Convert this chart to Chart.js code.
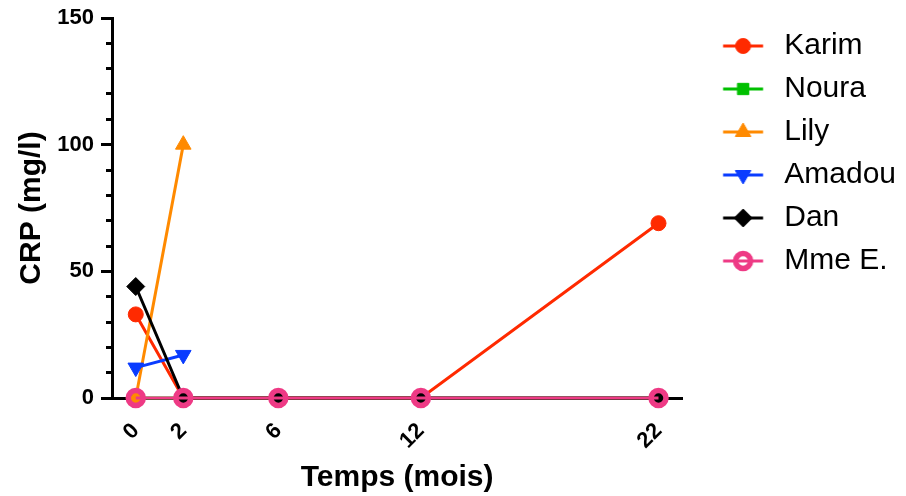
<!DOCTYPE html>
<html lang="fr">
<head>
  <meta charset="UTF-8" />
  <title>CRP par patient</title>
  <script src="https://cdn.jsdelivr.net/npm/chart.js"></script>
  <style>
    html, body {
      margin: 0;
      padding: 0;
      background: #fff;
    }
    #chart-container {
      width: 906px;
      height: 496px;
    }
  </style>
</head>
<body>

  <div id="chart-container">
    <canvas id="crpChart"></canvas>
  </div>

  <script>
    // data
    const months   = [0, 2, 6, 12, 22];
    const patients = ['Karim', 'Noura', 'Lily', 'Amadou', 'Dan', 'Mme E.'];
    const karim    = [33, 0, 0, 0, 69];
    const noura    = [0, 0, 0, 0, 0];
    const lily     = [0, 100, null, null, null];
    const amadou   = [12, 17, null, null, null];
    const dan      = [44, 0, 0, 0, 0];
    const mmeE     = [0, 0, 0, 0, 0];
    const yLabels  = [0, 50, 100, 150];

    const series = [karim, noura, lily, amadou, dan, mmeE];

    const FONT = "'Liberation Sans', Arial, sans-serif";

    // marker look for each patient
    const looks = [
      { color: '#ff2a00', style: 'circle',   radius: 7.5, rotation: 0,   fill: true },
      { color: '#00c000', style: 'rect',     radius: 8,   rotation: 0,   fill: true },
      { color: '#ff8a00', style: 'triangle', radius: 9,   rotation: 0,   fill: true },
      { color: '#0a3cff', style: 'triangle', radius: 9,   rotation: 180, fill: true },
      { color: '#000000', style: 'rectRot',  radius: 9,   rotation: 0,   fill: true },
      { color: '#ee3a85', style: 'circle',   radius: 7.5, rotation: 0,   fill: false }
    ];

    // small line + marker picture used as legend symbol
    function legendIcon(look) {
      const c = document.createElement('canvas');
      c.width = 70;
      c.height = 26;
      const g = c.getContext('2d');
      const mx = 45.8, my = 13;
      g.strokeStyle = look.color;
      g.lineWidth = 3;
      g.beginPath();
      g.moveTo(mx - 20, my);
      g.lineTo(mx + 20, my);
      g.stroke();
      g.fillStyle = look.fill ? look.color : 'rgba(0,0,0,0)';
      g.strokeStyle = look.color;
      g.lineWidth = look.fill ? 1 : 5.5;
      Chart.helpers.drawPoint(g, {
        pointStyle: look.style,
        radius: look.radius,
        rotation: look.rotation,
        borderWidth: g.lineWidth
      }, mx, my);
      return c;
    }

    const icons = looks.map(legendIcon);

    const datasets = patients.map((name, i) => ({
      label: name,
      data: months.map((m, j) => ({ x: m, y: series[i][j] })),
      borderColor: looks[i].color,
      backgroundColor: looks[i].color,
      borderWidth: 3,
      pointStyle: looks[i].style,
      pointRadius: looks[i].radius,
      pointRotation: looks[i].rotation,
      pointBackgroundColor: looks[i].fill ? looks[i].color : 'rgba(0,0,0,0)',
      pointBorderColor: looks[i].color,
      pointBorderWidth: looks[i].fill ? 1 : 5.5,
      order: patients.length - i,
      clip: false,
      tension: 0
    }));

    // minor y ticks are shorter: hide the outer part with a dash
    const isMajor = c => c.tick && yLabels.includes(c.tick.value);

    const ctx = document.getElementById('crpChart').getContext('2d');
    new Chart(ctx, {
      type: 'line',
      data: { datasets },
      options: {
        responsive: true,
        maintainAspectRatio: false,
        animation: false,
        layout: { padding: { top: 18, left: 0, right: 0, bottom: 0 } },
        plugins: {
          tooltip: { enabled: false },
          legend: {
            position: 'right',
            align: 'start',
            labels: {
              usePointStyle: true,
              pointStyleWidth: 74,
              padding: 13,
              color: '#000',
              font: { family: FONT, size: 30 },
              generateLabels: chart => chart.data.datasets.map((ds, i) => ({
                text: ds.label,
                pointStyle: icons[i],
                datasetIndex: i,
                fontColor: '#000',
                fillStyle: 'rgba(0,0,0,0)',
                strokeStyle: 'rgba(0,0,0,0)',
                lineWidth: 0,
                hidden: false
              }))
            }
          }
        },
        scales: {
          x: {
            type: 'linear',
            min: -1,
            max: 23,
            afterBuildTicks: s => { s.ticks = months.map(v => ({ value: v })); },
            afterFit: s => { s.height = 98; },
            ticks: {
              autoSkip: false,
              minRotation: 45,
              maxRotation: 45,
              padding: 12,
              color: '#000',
              font: { family: FONT, size: 22, weight: 'bold' }
            },
            grid: {
              display: true,
              drawOnChartArea: false,
              tickLength: 8,
              tickWidth: 3,
              tickColor: '#000'
            },
            border: { color: '#000', width: 3 },
            title: {
              display: true,
              text: 'Temps (mois)',
              color: '#000',
              font: { family: FONT, size: 30, weight: 'bold' },
              padding: { top: 0, bottom: 0 }
            }
          },
          y: {
            min: 0,
            max: 150,
            afterFit: s => { s.width = 112; s.paddingTop = 0; },
            ticks: {
              stepSize: 10,
              autoSkip: false,
              padding: 7,
              color: '#000',
              font: { family: FONT, size: 22, weight: 'bold' },
              callback: v => yLabels.includes(v) ? v : ''
            },
            grid: {
              display: true,
              drawOnChartArea: false,
              tickLength: 11,
              tickWidth: 3,
              tickColor: '#000',
              tickBorderDash: c => isMajor(c) ? [] : [6, 5],
              tickBorderDashOffset: c => isMajor(c) ? 0 : 6
            },
            border: { color: '#000', width: 3 },
            title: {
              display: true,
              text: 'CRP (mg/l)',
              color: '#000',
              font: { family: FONT, size: 30, weight: 'bold' },
              padding: { top: 14, bottom: 0 }
            }
          }
        }
      }
    });
  </script>

</body>
</html>
